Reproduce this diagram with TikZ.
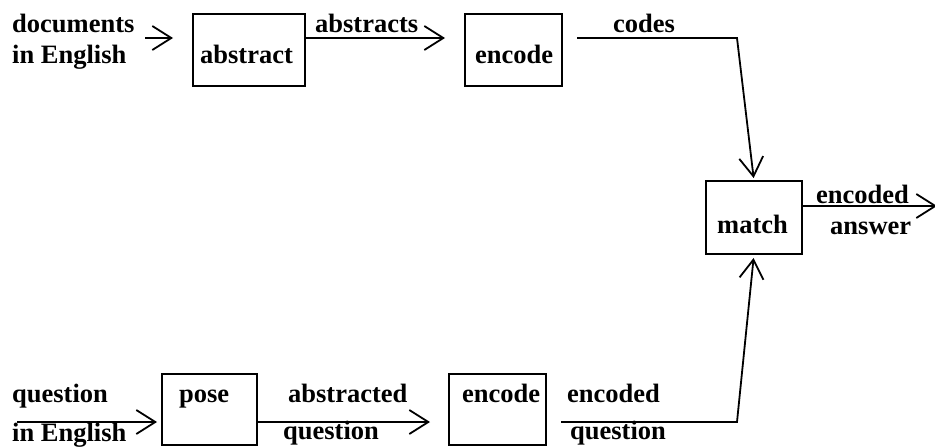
\documentclass[tikz,border=0pt]{standalone}
\usepackage{fontspec}
\setmainfont{Liberation Serif}
\usetikzlibrary{arrows.meta}

\begin{document}
\begin{tikzpicture}[x=1pt,y=-1pt,
  box/.style={draw, line width=1.8pt, rectangle, inner sep=0pt, outer sep=0pt},
  lbl/.style={anchor=base west, inner sep=0pt, font=\bfseries\fontsize{26.5}{31}\selectfont},
  arr/.style={line width=1.8pt, -{Straight Barb[length=19pt,width=24pt]}},
  wire/.style={line width=1.8pt}]
\useasboundingbox (0,0) rectangle (935,447);

% process boxes
\node[box, minimum width=112pt, minimum height=72pt] (abstract) at (249,50) {};
\node[box, minimum width=97pt, minimum height=72pt] (encA) at (513.5,50) {};
\node[box, minimum width=96pt, minimum height=73pt] (match) at (754,217.5) {};
\node[box, minimum width=95pt, minimum height=71pt] (pose) at (209.5,409.5) {};
\node[box, minimum width=97pt, minimum height=71pt] (encB) at (497.5,409.5) {};

% box captions
\node[lbl] (tAbstract) at (200,63) {abstract};
\node[lbl] (tEncA) at (475,63) {encode};
\node[lbl] (tMatch) at (717,233) {match};
\node[lbl] (tPose) at (179,402) {pose};
\node[lbl] (tEncB) at (462,402) {encode};

% flow labels
\node[lbl] (tDocs) at (12,32) {documents};
\node[lbl] (tDocsEn) at (12,63) {in English};
\node[lbl] (tAbstracts) at (315,32) {abstracts};
\node[lbl] (tCodes) at (613,32) {codes};
\node[lbl] (tEncAns) at (816,203) {encoded};
\node[lbl] (tAns) at (830,234) {answer};
\node[lbl] (tQ) at (12,402) {question};
\node[lbl] (tQEn) at (12,441) {in English};
\node[lbl] (tAbsd) at (288,402) {abstracted};
\node[lbl] (tAbsdQ) at (283,439) {question};
\node[lbl] (tEncd) at (567,402) {encoded};
\node[lbl] (tEncdQ) at (570,439) {question};

% helper coordinates
\coordinate (toprow) at (0,38);
\coordinate (botrow) at (0,422);
\coordinate (docsin) at (145,38);
\coordinate (qin) at (17,422);
\coordinate (bendA) at (737,38);
\coordinate (bendB) at (737,422);
\coordinate (outend) at (937,206);

% connectors
\draw[arr, shorten >=20pt] (docsin) -- (docsin -| abstract.west);
\draw[arr, shorten >=20pt] (abstract.east |- toprow) -- (encA.west |- toprow);
\draw[arr, shorten >=3pt] ([xshift=15pt]encA.east |- toprow) -- (bendA) -- (match.north);
\draw[arr] (match.east |- outend) -- (outend);
\draw[arr, shorten >=5pt] (qin) -- (pose.west |- botrow);
\draw[arr, shorten >=19pt] (pose.east |- botrow) -- (encB.west |- botrow);
\draw[arr, shorten >=4pt] ([xshift=15pt]encB.east |- botrow) -- (bendB) -- (match.south);
\end{tikzpicture}
\end{document}
